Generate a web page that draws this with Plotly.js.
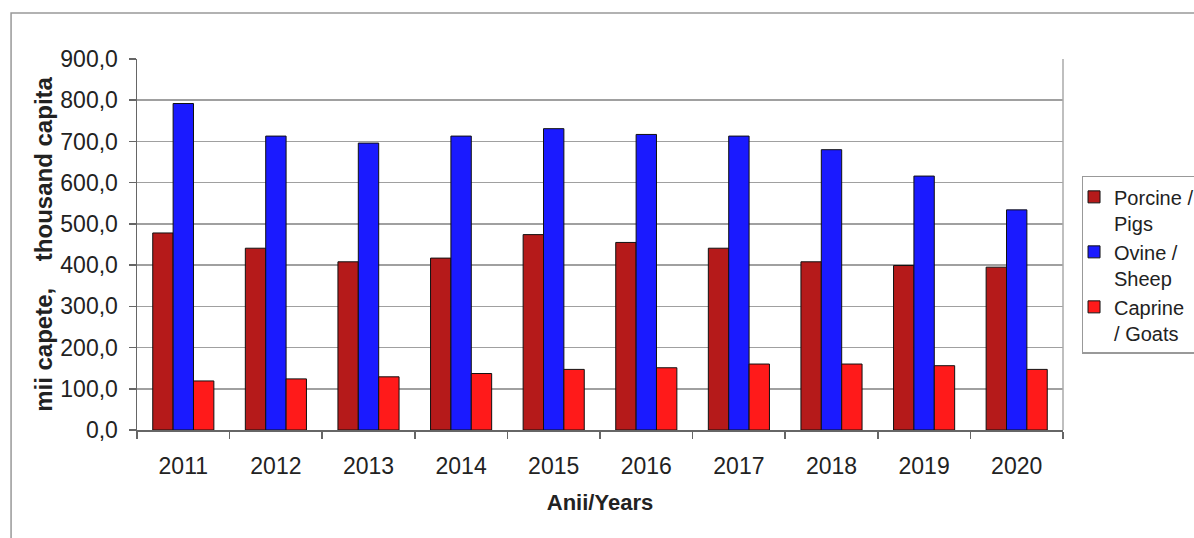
<!DOCTYPE html>
<html>
<head>
<meta charset="utf-8">
<script src="https://cdn.plot.ly/plotly-3.0.1.min.js"></script>
<style>
html, body { margin: 0; padding: 0; background: #fff; }
#chart { width: 1194px; height: 538px; }
</style>
</head>
<body>
<div id="chart"></div>
<script>
const years = ['2011', '2012', '2013', '2014', '2015', '2016', '2017', '2018', '2019', '2020'];
const pigs = [478, 441, 408, 417, 474, 455, 441, 408, 399, 395];
const sheep = [792, 713, 696, 713, 731, 717, 713, 680, 616, 534];
const goats = [119, 124, 129, 137, 147, 151, 160, 160, 156, 147];
const seriesNames = ['Porcine /<br>Pigs', 'Ovine /<br>Sheep', 'Caprine<br>/ Goats'];
const seriesColors = ['#B51A1A', '#1A1AFF', '#FF1A1A'];

const FONT = 'Liberation Sans, Arial, sans-serif';
const mk = (y, i) => ({
  type: 'bar', x: years, y: y, name: seriesNames[i],
  marker: { color: seriesColors[i], line: { color: '#111', width: 1 } },
  hoverinfo: 'x+y'
});
const data = [mk(pigs, 0), mk(sheep, 1), mk(goats, 2)];

const layout = {
  width: 1194, height: 538,
  margin: { l: 137, r: 131, t: 59, b: 108, autoexpand: false },
  paper_bgcolor: '#fff', plot_bgcolor: '#fff',
  separators: ',.',
  font: { family: FONT, color: '#222' },
  barmode: 'group', bargap: 0.34, bargroupgap: 0,
  showlegend: true,
  legend: {
    x: 1.02, xanchor: 'left', y: 0.685, yanchor: 'top',
    bordercolor: '#999', borderwidth: 1.5, bgcolor: '#fff',
    font: { family: FONT, size: 20, color: '#222' },
    valign: 'top', indentation: -9, itemwidth: 30
  },
  xaxis: {
    type: 'category',
    showgrid: false,
    showline: true, linecolor: '#666', linewidth: 1.5,
    ticks: 'outside', tickson: 'boundaries', ticklen: 7, tickcolor: '#666', tickwidth: 1.5,
    ticklabelstandoff: 15,
    tickfont: { family: FONT, size: 23, color: '#222' },
    title: { text: '<b>Anii/Years</b>', font: { family: FONT, size: 22, color: '#222' }, standoff: 16 },
    automargin: false
  },
  yaxis: {
    range: [0, 900], dtick: 100, tick0: 0, tickformat: '.1f',
    showgrid: true, gridcolor: '#a0a0a0', gridwidth: 1.5,
    zeroline: false,
    showline: true, linecolor: '#666', linewidth: 1.5,
    ticks: 'outside', ticklen: 7, tickcolor: '#666', tickwidth: 1.5,
    ticklabelstandoff: 6,
    tickfont: { family: FONT, size: 23, color: '#222' },
    title: { text: '<b>mii capete,&nbsp;&nbsp;&nbsp;&nbsp;thousand capita</b>', font: { family: FONT, size: 24, color: '#222' }, standoff: 1 },
    automargin: false
  },
  shapes: [
    { type: 'rect', xref: 'paper', yref: 'paper', x0: -0.136, x1: 1.6, y0: -0.6, y1: 1.124,
      line: { color: '#999', width: 1.5 }, fillcolor: 'rgba(0,0,0,0)', layer: 'below' },
    { type: 'line', xref: 'paper', yref: 'paper', x0: 1, x1: 1, y0: 0, y1: 1,
      line: { color: '#aaa', width: 1.5 } }
  ]
};

Plotly.newPlot('chart', data, layout, { displayModeBar: false, staticPlot: true });
</script>
</body>
</html>
